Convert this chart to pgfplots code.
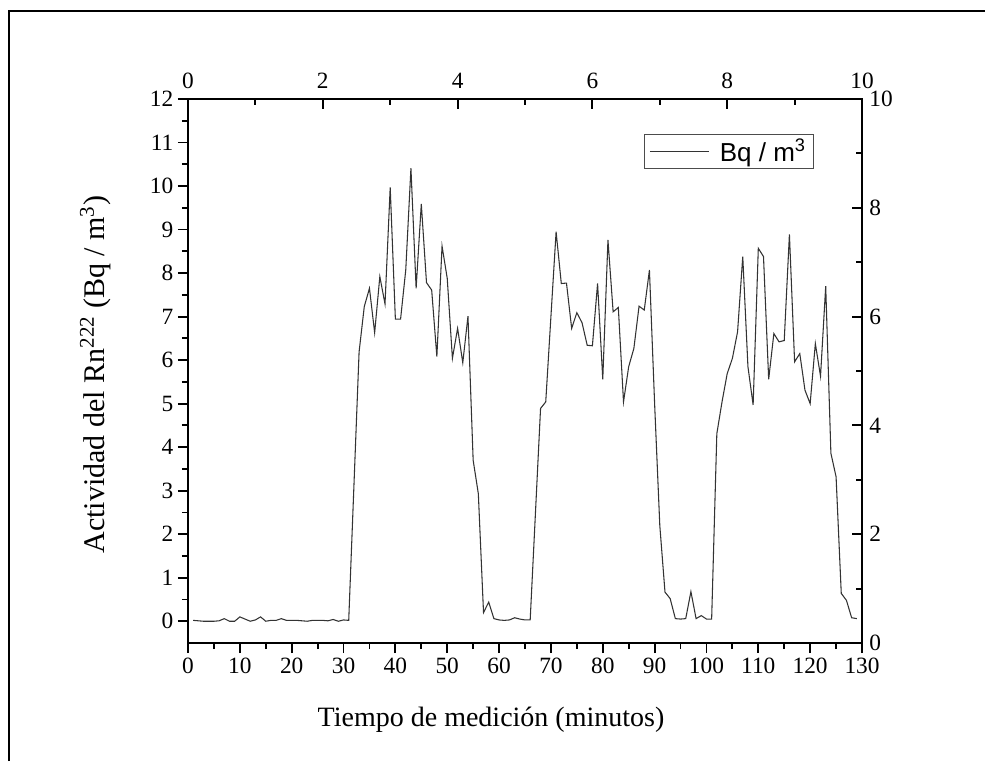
\documentclass[border=0pt]{standalone}
\usepackage{fontspec}
\setmainfont{Liberation Serif}
\newfontfamily\arial{Liberation Sans}
\usepackage{pgfplots}
\pgfplotsset{compat=1.18}

\pgfplotstableread{
t v
1 0.02
2 0.01
3 0.00
4 0.00
5 0.00
6 0.01
7 0.06
8 0.00
9 0.00
10 0.10
11 0.05
12 0.00
13 0.03
14 0.10
15 0.00
16 0.02
17 0.02
18 0.06
19 0.02
20 0.02
21 0.02
22 0.01
23 0.00
24 0.02
25 0.02
26 0.02
27 0.01
28 0.04
29 0.00
30 0.03
31 0.02
32 3.10
33 6.19
34 7.23
35 7.65
36 6.63
37 7.92
38 7.29
39 9.97
40 6.94
41 6.94
42 8.07
43 10.41
44 7.65
45 9.59
46 7.78
47 7.61
48 6.08
49 8.62
50 7.88
51 6.04
52 6.73
53 5.94
54 7.01
55 3.70
56 2.93
57 0.20
58 0.44
59 0.06
60 0.03
61 0.02
62 0.03
63 0.08
64 0.05
65 0.03
66 0.03
67 2.45
68 4.89
69 5.04
70 7.00
71 8.95
72 7.76
73 7.77
74 6.73
75 7.09
76 6.86
77 6.34
78 6.33
79 7.76
80 5.56
81 8.76
82 7.11
83 7.21
84 5.04
85 5.85
86 6.27
87 7.24
88 7.15
89 8.07
90 5.00
91 2.20
92 0.67
93 0.52
94 0.06
95 0.05
96 0.06
97 0.68
98 0.06
99 0.13
100 0.05
101 0.05
102 4.31
103 5.04
104 5.69
105 6.04
106 6.65
107 8.38
108 5.85
109 4.97
110 8.57
111 8.38
112 5.56
113 6.61
114 6.42
115 6.45
116 8.89
117 5.96
118 6.15
119 5.31
120 5.00
121 6.38
122 5.63
123 7.70
124 3.86
125 3.32
126 0.64
127 0.48
128 0.08
129 0.06
}\radon

\begin{document}
\begin{tikzpicture}
\pgfplotsset{
  common/.style={
    at={(0pt,0pt)}, anchor=south west,
    width=505.5pt, height=408pt, scale only axis,
    major tick length=7.5pt, minor tick length=4.5pt,
    tick style={line width=1.4pt, black},
    tick label style={font=\fontsize{17.5}{19}\selectfont},
    /pgf/number format/assume math mode=true,
  },
}
% main axis: minutes vs activity
\begin{axis}[common,
  xmin=0, xmax=130, ymin=-0.5, ymax=12,
  xtick={0,10,...,130}, minor x tick num=1,
  ytick={0,1,...,12}, minor y tick num=1,
  xtick pos=bottom, ytick pos=left, tick align=outside,
  axis line style={line width=1.4pt},
  xlabel={Tiempo de medición (minutos)},
  ylabel={Actividad del Rn\textsuperscript{222} (Bq / m\textsuperscript{3})},
  xlabel style={font=\fontsize{21}{24}\selectfont,
    at={(axis description cs:0.1855,-0.1526)}, anchor=base west},
  ylabel style={font=\fontsize{22.5}{25}\selectfont,
    at={(axis description cs:-0.1246,0.156)}, anchor=base west},
]
\addplot[black!80, line width=0.8pt] table[x=t, y=v] {\radon};
\end{axis}
% secondary axis: top and right scales
\begin{axis}[common,
  xmin=0, xmax=10, ymin=0, ymax=10,
  xtick={0,2,...,10}, minor x tick num=1,
  ytick={0,2,...,10}, minor y tick num=1,
  xtick pos=top, ytick pos=right, tick align=inside,
  xticklabel pos=top, yticklabel pos=right,
  xticklabel style={yshift=4.5pt}, yticklabel style={xshift=2pt},
  axis line style={draw=none},
  legend style={at={(rel axis cs:0.929,0.936)}, anchor=north east,
    draw=black!70, line width=0.6pt, font=\arial\fontsize{19.5}{21}\selectfont,
    inner xsep=4pt, inner ysep=1.5pt},
  legend image code/.code={\draw[#1] (0pt,0pt) -- (44pt,0pt); \path (50pt,0pt);},
]
\addlegendimage{black!80, line width=0.8pt}
\addlegendentry{Bq / m\textsuperscript{3}}
\end{axis}
% outer frame (left and top edges)
\draw[line width=1.3pt] (-134.25pt,-88.5pt) -- (-134.25pt,474pt) -- (597.75pt,474pt);
\pgfresetboundingbox
\useasboundingbox (-141pt,-88.5pt) rectangle (597.75pt,482.25pt);
\end{tikzpicture}
\end{document}
